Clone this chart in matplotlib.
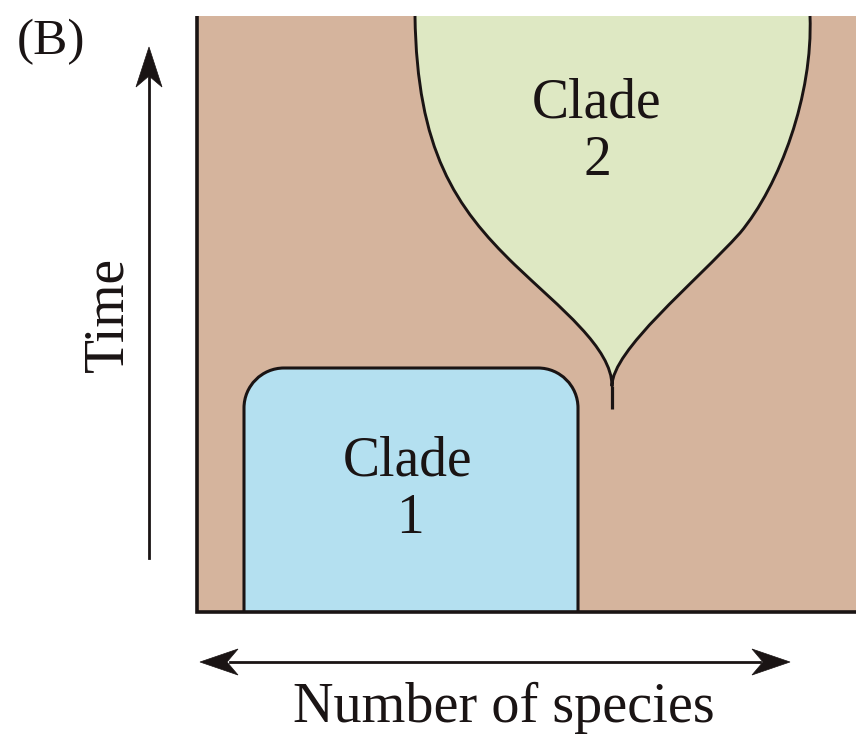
import numpy as np
import matplotlib.pyplot as plt
from matplotlib.path import Path
from matplotlib.patches import PathPatch, Rectangle, Polygon

# ---- layout (pixel units, y grows downward) ----
PANEL_LEFT, PANEL_TOP, PANEL_RIGHT, PANEL_BOTTOM = 197, 16, 856, 612

CLADE1_X = [244, 578]          # left / right edge of clade 1
CLADE1_TOP = 368
CLADE1_RADIUS = 40

# clade 2 outline as cubic bezier pieces: start, ctrl1, ctrl2, end
# left side runs top -> cusp, right side runs cusp -> top
CLADE2_LEFT = [
    [(415, 16), (417, 150), (455, 207), (515, 265)],
    [(515, 265), (560, 308), (612, 348), (612, 386)],
]
CLADE2_RIGHT = [
    [(612, 386), (612, 350), (695, 283), (740, 233)],
    [(740, 233), (780, 185), (813, 95), (810, 16)],
]
CLADE2_TIP = 409

TIME_ARROW = dict(x=149, y0=558, y1=47)
SPECIES_ARROW = dict(y=662, x0=200, x1=790)

BROWN = "#d5b49d"
BLUE = "#b4e0f0"
GREEN = "#dee8c3"
INK = "#1a1414"
SERIF = ["Liberation Serif", "DejaVu Serif"]


def bezier(pieces, start=True):
    verts, codes = [], []
    if start:
        verts.append(pieces[0][0])
        codes.append(Path.MOVETO)
    for p in pieces:
        verts += list(p[1:])
        codes += [Path.CURVE4] * 3
    return verts, codes


def stealth(ax, tip, direction, length=40, half=13, notch=11):
    d = np.asarray(direction, float)
    d /= np.linalg.norm(d)
    nrm = np.array([-d[1], d[0]])
    tip = np.asarray(tip, float)
    back = tip - d * length
    pts = [tip, back + nrm * half, tip - d * (length - notch), back - nrm * half]
    ax.add_patch(Polygon(pts, closed=True, fc=INK, ec=INK, lw=0.5, zorder=6))


fig = plt.figure(figsize=(8.56, 7.34), dpi=100)
ax = fig.add_axes([0, 0, 1, 1])
ax.set_xlim(0, 856)
ax.set_ylim(734, 0)
ax.axis("off")

# background panel
ax.add_patch(Rectangle((PANEL_LEFT, PANEL_TOP), PANEL_RIGHT - PANEL_LEFT,
                       PANEL_BOTTOM - PANEL_TOP, fc=BROWN, ec="none", zorder=1))

# clade 1: box with rounded top corners
xl, xr = CLADE1_X
r = CLADE1_RADIUS
k = 0.5523 * r
c1_verts = [(xl, PANEL_BOTTOM), (xl, CLADE1_TOP + r),
            (xl, CLADE1_TOP + r - k), (xl + r - k, CLADE1_TOP), (xl + r, CLADE1_TOP),
            (xr - r, CLADE1_TOP),
            (xr - r + k, CLADE1_TOP), (xr, CLADE1_TOP + r - k), (xr, CLADE1_TOP + r),
            (xr, PANEL_BOTTOM)]
c1_codes = [Path.MOVETO, Path.LINETO] + [Path.CURVE4] * 3 + [Path.LINETO] \
    + [Path.CURVE4] * 3 + [Path.LINETO]
ax.add_patch(PathPatch(Path(c1_verts + [c1_verts[0]], c1_codes + [Path.CLOSEPOLY]),
                       fc=BLUE, ec="none", zorder=2))
ax.add_patch(PathPatch(Path(c1_verts, c1_codes), fill=False, ec=INK, lw=2.2,
                       zorder=4, capstyle="butt", joinstyle="round"))

# clade 2: tear-drop shape
lv, lc = bezier(CLADE2_LEFT)
rv, rc = bezier(CLADE2_RIGHT, start=False)
out_verts = lv + rv
out_codes = lc + rc
ax.add_patch(PathPatch(Path(out_verts + [out_verts[0]], out_codes + [Path.CLOSEPOLY]),
                       fc=GREEN, ec="none", zorder=2))
ax.add_patch(PathPatch(Path(out_verts, out_codes), fill=False, ec=INK, lw=2.1,
                       zorder=4, joinstyle="round"))
tip_x, tip_y0 = CLADE2_LEFT[-1][-1]
ax.plot([tip_x, tip_x], [tip_y0, CLADE2_TIP], color=INK, lw=2.3,
        solid_capstyle="butt", zorder=4)

# panel frame (left and bottom only)
ax.plot([PANEL_LEFT, PANEL_LEFT, PANEL_RIGHT],
        [PANEL_TOP, PANEL_BOTTOM, PANEL_BOTTOM], color=INK, lw=2.6,
        solid_joinstyle="miter", solid_capstyle="butt", zorder=5)

# time arrow
ta = TIME_ARROW
ax.plot([ta["x"], ta["x"]], [ta["y0"], ta["y1"] + 30], color=INK, lw=2.0, zorder=5)
stealth(ax, (ta["x"], ta["y1"]), (0, -1))

# number of species arrow (double headed)
sa = SPECIES_ARROW
ax.plot([sa["x0"] + 30, sa["x1"] - 30], [sa["y"], sa["y"]], color=INK, lw=2.0, zorder=5)
stealth(ax, (sa["x0"], sa["y"]), (-1, 0), length=38, half=13)
stealth(ax, (sa["x1"], sa["y"]), (1, 0), length=38, half=13)

# labels
txt = dict(family=SERIF, color=INK, fontsize=40)
ax.text(17, 54, "(B)", ha="left", va="baseline", **{**txt, "fontsize": 37})
ax.text(122, 314, "Time", rotation=90, rotation_mode="anchor",
        ha="center", va="baseline", **txt)
ax.text(504, 722, "Number of species", ha="center", va="baseline",
        **{**txt, "fontsize": 40.5})
ax.text(408, 476, "Clade", ha="center", va="baseline", **txt)
ax.text(410, 533, "1", ha="center", va="baseline", **txt)
ax.text(597, 117, "Clade", ha="center", va="baseline", **txt)
ax.text(597, 175, "2", ha="center", va="baseline", **txt)

fig.savefig("out.png", dpi=100)
plt.close(fig)
